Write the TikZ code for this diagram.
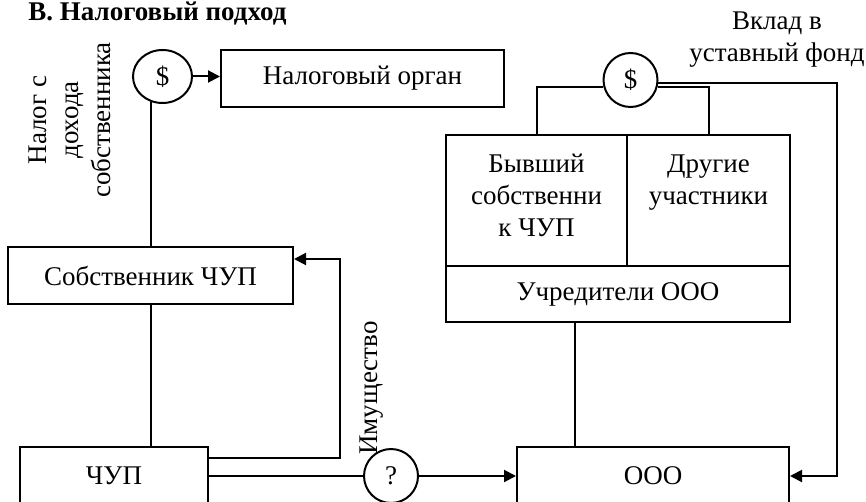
\documentclass[tikz,border=0pt]{standalone}
\usepackage{fontspec}
\setmainfont{Liberation Serif}
\usetikzlibrary{arrows.meta,shapes.geometric}

\tikzstyle{arrow} = [line width=1pt,-{Triangle[length=6pt,width=6pt]}]
\tikzstyle{link} = [line width=1pt]
\tikzstyle{block} = [
        rectangle,
        inner sep=0pt,
        text centered,
        draw=black,
        line width=1pt
    ]
\tikzstyle{coin} = [
        circle,
        minimum size=27pt,
        inner sep=0pt,
        draw=black,
        line width=1pt
    ]

\begin{document}
\begin{tikzpicture}[x=0.5pt, y=-0.5pt, font=\fontsize{13.5}{16}\selectfont]
        \useasboundingbox (0,0) rectangle (866,502);

        \node (title) [%
            anchor=base west,%
            inner sep=0pt,%
            font=\fontsize{13.5}{16}\selectfont\bfseries%
            ] at (28,21) {В. Налоговый подход};

        \node (taxcoin) [%
            coin,%
            ellipse,%
            minimum width=29.5pt,%
            minimum height=26.5pt%
            ] at (162.5,76.5) {\$};

        \node (taxbox) [%
            block,%
            minimum width=141.5pt,%
            minimum height=28.5pt%
            ] at (362.5,78.5) {Налоговый орган};

        \node (taxlabel) [%
            rotate=90,%
            align=center%
            ] at (70,120) {Налог с\\дохода\\собственника};

        \node (owner) [%
            block,%
            minimum width=142.5pt,%
            minimum height=28.5pt%
            ] at (150.5,275.5) {Собственник ЧУП};

        \node (chup) [%
            block,%
            minimum width=94pt,%
            minimum height=29pt%
            ] at (114,476) {ЧУП};

        \node (prop) [coin] at (391,476) {?};

        \node (proplabel) [rotate=90] at (372,388) {Имущество};

        \node (ooo) [%
            block,%
            minimum width=136pt,%
            minimum height=29pt%
            ] at (653,476) {ООО};

        \node (former) [%
            block,%
            align=center,%
            text depth=5pt,%
            minimum width=90.5pt,%
            minimum height=65.5pt%
            ] at (536.5,200.5) {Бывший\\собственни\\к ЧУП};

        \node (others) [%
            block,%
            align=center,%
            text depth=5pt,%
            minimum width=81.5pt,%
            minimum height=65.5pt%
            ] at (708.5,200.5) {Другие\\участники\\\mbox{}};

        \node (founders) [%
            block,%
            minimum width=172pt,%
            minimum height=28pt%
            ] at (618,294) {Учредители ООО};

        \node (coin2) [coin] at (630.5,80) {\$};

        \node (contrib) [align=center] at (777,40) {Вклад в\\уставный фонд};

        \coordinate (turn) at (340,458);
        \coordinate (side) at (837,0);

        \draw [arrow] (taxcoin.east) -- (taxcoin.east -| taxbox.west);
        \draw [link] (taxcoin.246) -- (taxcoin.246 |- owner.north);
        \draw [link] (owner.south) -- (owner.south |- chup.north);
        \draw [arrow] (chup.east |- turn) -- (turn) |- ([yshift=8.25pt]owner.east);
        \draw [link] (chup.east) -- (prop.west);
        \draw [arrow] (prop.east) -- (ooo.west);
        \draw [link] ([xshift=-21.75pt]founders.south) -- ([xshift=-21.75pt]founders.south |- ooo.north);
        \draw [link] (coin2.195) -| (former.north);
        \draw [link] (coin2.-15) -| (others.north);
        \draw [arrow] (coin2.-6) -- (coin2.-6 -| side) |- (ooo.east);

    \end{tikzpicture}
\end{document}
